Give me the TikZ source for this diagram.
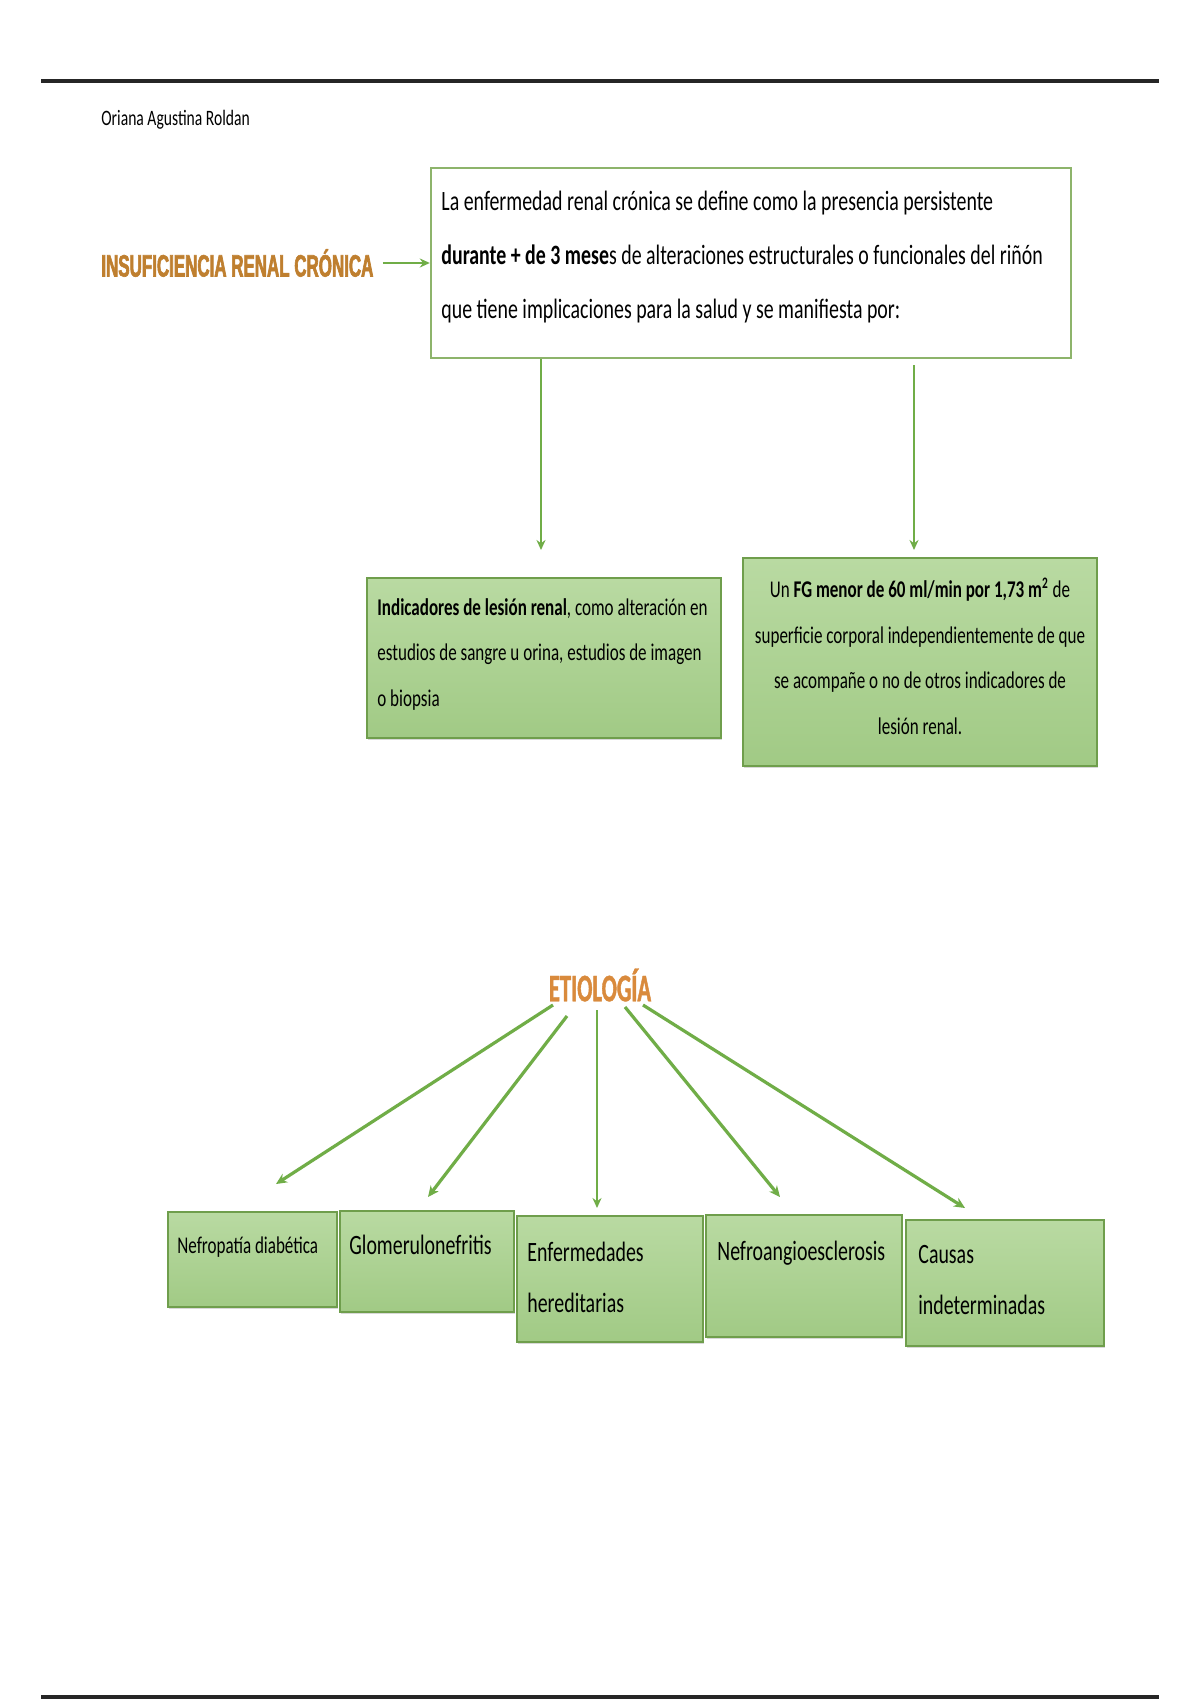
\documentclass[tikz,border=0pt]{standalone}
\usepackage{fontspec}
\setmainfont{Carlito}[FakeStretch=0.71]
\newfontfamily\titlefont{Liberation Sans}[FakeStretch=0.55,FakeBold=2]
\newfontfamily\etiofont{Carlito}[FakeStretch=0.58,FakeBold=1]
\usetikzlibrary{arrows.meta,shadows}
\definecolor{arrgreen}{HTML}{70AD47}
\definecolor{boxline}{HTML}{8DB46B}
\definecolor{gboxline}{HTML}{6F9E4C}
\definecolor{gtop}{HTML}{B9DAA2}
\definecolor{gbot}{HTML}{A1CA85}
\definecolor{titleorange}{HTML}{BF7F2F}
\definecolor{etioorange}{HTML}{D98A3C}
\tikzset{
  rule/.style={line width=2pt, black!85},
  mainbox/.style={draw=boxline, line width=1.2pt, fill=white, inner sep=0pt},
  greenbox/.style={draw=gboxline, line width=1.2pt, top color=gtop, bottom color=gbot, inner sep=0pt,
    drop shadow={opacity=0.3, shadow xshift=0.4pt, shadow yshift=-1.2pt}},
  maintext/.style={inner sep=0pt, align=left, font=\fontsize{14}{27}\selectfont},
  smalltext/.style={inner sep=0pt, font=\fontsize{12}{22.75}\selectfont},
  etitext/.style={inner sep=0pt, align=left, font=\fontsize{14}{25.5}\selectfont},
  conn/.style={draw=arrgreen, line width=1.1pt, -{Stealth[length=5pt,width=4.5pt]}},
  etconn/.style={draw=arrgreen, line width=1.6pt, -{Stealth[length=5.5pt,width=5pt]}}
}
\begin{document}
\begin{tikzpicture}[x=0.5pt,y=-0.5pt]
\useasboundingbox (0,0) rectangle (1200,1700);
\fill[white] (0,0) rectangle (1200,1700);
% page rules
\draw[rule] (41,81) -- (1159,81);
\draw[rule] (41,1697) -- (1159,1697);
% author
\node[anchor=west, inner sep=0pt, font=\fontsize{11}{13}\selectfont] (author) at (101,120) {Oriana Agustina Roldan};
% title
\node[anchor=west, inner sep=0pt, text=titleorange, font=\titlefont\bfseries\fontsize{15.4}{18}\selectfont] (title) at (101,263) {INSUFICIENCIA RENAL CRÓNICA};
% main definition box
\node[mainbox, minimum width=320pt, minimum height=95pt] (def) at (751,263) {};
\node[maintext, anchor=north west] (deftext) at (441,191) {La enfermedad renal crónica se define como la presencia persistente\\
\textbf{durante + de 3 mese}s de alteraciones estructurales o funcionales del riñón\\
que tiene implicaciones para la salud y se manifiesta por:};
\draw[conn, shorten <=4.5pt] (title.east) -- (title.east -| def.west);
% two green boxes
\node[greenbox, minimum width=177pt, minimum height=80pt] (lbox) at (544,658) {};
\node[smalltext, align=left, anchor=north west] (ltext) at (377,598) {\textbf{Indicadores de lesión renal}, como alteración en\\
estudios de sangre u orina, estudios de imagen\\
o biopsia};
\node[greenbox, minimum width=177pt, minimum height=104pt] (rbox) at (920,662) {};
\node[smalltext, align=center, anchor=north] (rtext) at (920,578) {Un \textbf{FG menor de 60 ml/min por 1,73 m\textsuperscript{2}} de\\
superficie corporal independientemente de que\\
se acompañe o no de otros indicadores de\\
lesión renal.};
\coordinate (a1) at (541,578);
\coordinate (a2) at (914,558);
\draw[conn, shorten >=14pt] (def.south -| a1) -- (a1);
\draw[conn, shorten <=3pt, shorten >=4pt] (def.south -| a2) -- (a2);
% etiology
\node[inner sep=0pt, text=etioorange, font=\etiofont\bfseries\fontsize{19.5}{22}\selectfont] (etio) at (600,985) {ETIOLOGÍA};
\node[greenbox, minimum width=84.5pt, minimum height=47.5pt] (b1) at (252.5,1259.5) {};
\node[greenbox, minimum width=87pt, minimum height=50.5pt] (b2) at (427,1261.5) {};
\node[greenbox, minimum width=93pt, minimum height=63pt] (b3) at (610,1279) {};
\node[greenbox, minimum width=98pt, minimum height=61pt] (b4) at (804,1276) {};
\node[greenbox, minimum width=99pt, minimum height=63pt] (b5) at (1005,1283) {};
\node[etitext, anchor=north west, font=\fontsize{12}{22}\selectfont] (t1) at (177,1236) {Nefropatía diabética};
\node[etitext, anchor=north west] (t2) at (349,1235) {Glomerulonefritis};
\node[etitext, anchor=north west] (t3) at (527,1242) {Enfermedades\\hereditarias};
\node[etitext, anchor=north west] (t4) at (717,1241) {Nefroangioesclerosis};
\node[etitext, anchor=north west] (t5) at (918,1245) {Causas\\indeterminadas};
\coordinate (s1) at (553,1005); \coordinate (e1) at (276,1184);
\coordinate (s2) at (567,1016); \coordinate (e2) at (428,1197);
\coordinate (s3) at (597,1010); \coordinate (e3) at (597,1208);
\coordinate (s4) at (625,1007); \coordinate (e4) at (780,1197);
\coordinate (s5) at (643,1005); \coordinate (e5) at (965,1208);
\draw[etconn] (s1) -- (e1);
\draw[etconn] (s2) -- (e2);
\draw[conn] (s3) -- (e3);
\draw[etconn] (s4) -- (e4);
\draw[etconn] (s5) -- (e5);
\end{tikzpicture}
\end{document}
